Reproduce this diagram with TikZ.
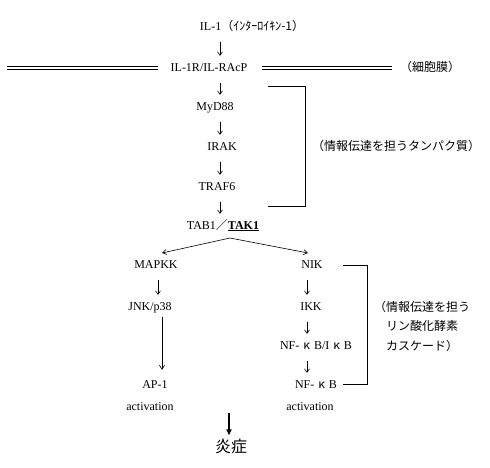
\documentclass[tikz,border=0pt]{standalone}
\usepackage{fontspec}
\setmainfont{Liberation Serif}
\newfontfamily\jp{Noto Sans CJK JP}
\usetikzlibrary{arrows.meta}
\newcommand{\kp}{\hspace{4pt}{\jp κ}\hspace{4pt}}
\tikzset{
  lbl/.style={inner sep=0pt, text height=9pt, text depth=3pt, font=\fontsize{12}{14}\selectfont},
  dn/.style={-{Straight Barb[length=3.5pt,width=5pt]}, line width=0.6pt, shorten <=9pt, shorten >=6pt},
  sl/.style={-{Straight Barb[length=4pt,width=5pt]}, line width=0.6pt},
  memline/.style={line width=0.7pt},
  brk/.style={line width=0.8pt},
  bigarr/.style={-{Triangle[length=6pt,width=5pt]}, line width=2pt}
}
\begin{document}
\begin{tikzpicture}[x=1pt,y=-1pt]
\useasboundingbox (0,0) rectangle (490,467);
% nodes
\node[lbl] (il1) at (252,27) {IL-1{\jp （ｲﾝﾀｰﾛｲｷﾝ-1）}};
\node[lbl] (rec) at (209,68) {IL-1R/IL-RAcP};
\node[lbl] (mem) at (430,68) {\jp （細胞膜）};
\node[lbl] (myd) at (215,107) {MyD88};
\node[lbl] (irak) at (222,147) {IRAK};
\node[lbl] (traf) at (217,187) {TRAF6};
\node[lbl] (tak) at (223,226) {TAB1{\jp ／}\underline{\textbf{TAK1}}};
\node[lbl] (lab1) at (396,147) {\jp （情報伝達を担うタンパク質）};
\node[lbl] (mapkk) at (156,265) {MAPKK};
\node[lbl] (jnk) at (150,307) {JNK/p38};
\node[lbl] (ap1) at (155,385) {AP-1};
\node[lbl] (act1) at (150,407) {activation};
\node[lbl] (nik) at (312,265) {NIK};
\node[lbl] (ikk) at (311,307) {IKK};
\node[lbl] (nfikb) at (316,346) {NF-\kp B/I\kp B};
\node[lbl] (nfkb) at (316,385) {NF-\kp B};
\node[lbl] (act2) at (310,407) {activation};
\node[inner sep=0pt, align=center, font=\jp\fontsize{12}{19.5}\selectfont] (lab2) at (422,326) {（情報伝達を担う\\リン酸化酵素\\カスケード）};
\node[inner sep=0pt, text height=12pt, text depth=3pt, font=\jp\fontsize{16}{18}\selectfont] (inflam) at (231,448) {炎症};
% coordinates
\coordinate (ax) at (220,0);
\coordinate (bx) at (307,0);
\coordinate (cx) at (158,0);
\coordinate (lx) at (162,0);
\coordinate (memL) at (7,68);
\coordinate (memR) at (392,68);
\coordinate (split) at (230,238);
\coordinate (tipL) at (162,253);
\coordinate (tipR) at (308,253);
\coordinate (thick) at (229,413);
% membrane (double line)
\foreach \dy in {-1.2,1.2} {
  \draw[memline, shorten >=12pt] ([yshift=\dy pt]memL) -- ([yshift=\dy pt]rec.west);
  \draw[memline, shorten <=14pt] ([yshift=\dy pt]rec.east) -- ([yshift=\dy pt]memR);
}
% vertical arrows
\draw[dn] (il1.south -| ax) -- (rec.north -| ax);
\draw[dn] (rec.south -| ax) -- (myd.north -| ax);
\draw[dn] (myd.south -| ax) -- (irak.north -| ax);
\draw[dn] (irak.south -| ax) -- (traf.north -| ax);
\draw[dn] (traf.south -| ax) -- (tak.north -| ax);
\draw[dn] (mapkk.south -| cx) -- (jnk.north -| cx);
\draw[dn] (nik.south -| bx) -- (ikk.north -| bx);
\draw[dn] (ikk.south -| bx) -- (nfikb.north -| bx);
\draw[dn] (nfikb.south -| bx) -- (nfkb.north -| bx);
\draw[sl, shorten <=4pt, shorten >=9pt] (jnk.south -| lx) -- (ap1.north -| lx);
% split arrows
\draw[sl] (split) -- (tipL);
\draw[sl] (split) -- (tipR);
% brackets
\draw[brk] (268,86) -| (305,206) -- (268,206);
\draw[brk] (343,265) -| (367,384) -- (343,384);
% thick arrow
\draw[bigarr, shorten >=5pt] (thick) -- (inflam.north -| thick);
\end{tikzpicture}
\end{document}
